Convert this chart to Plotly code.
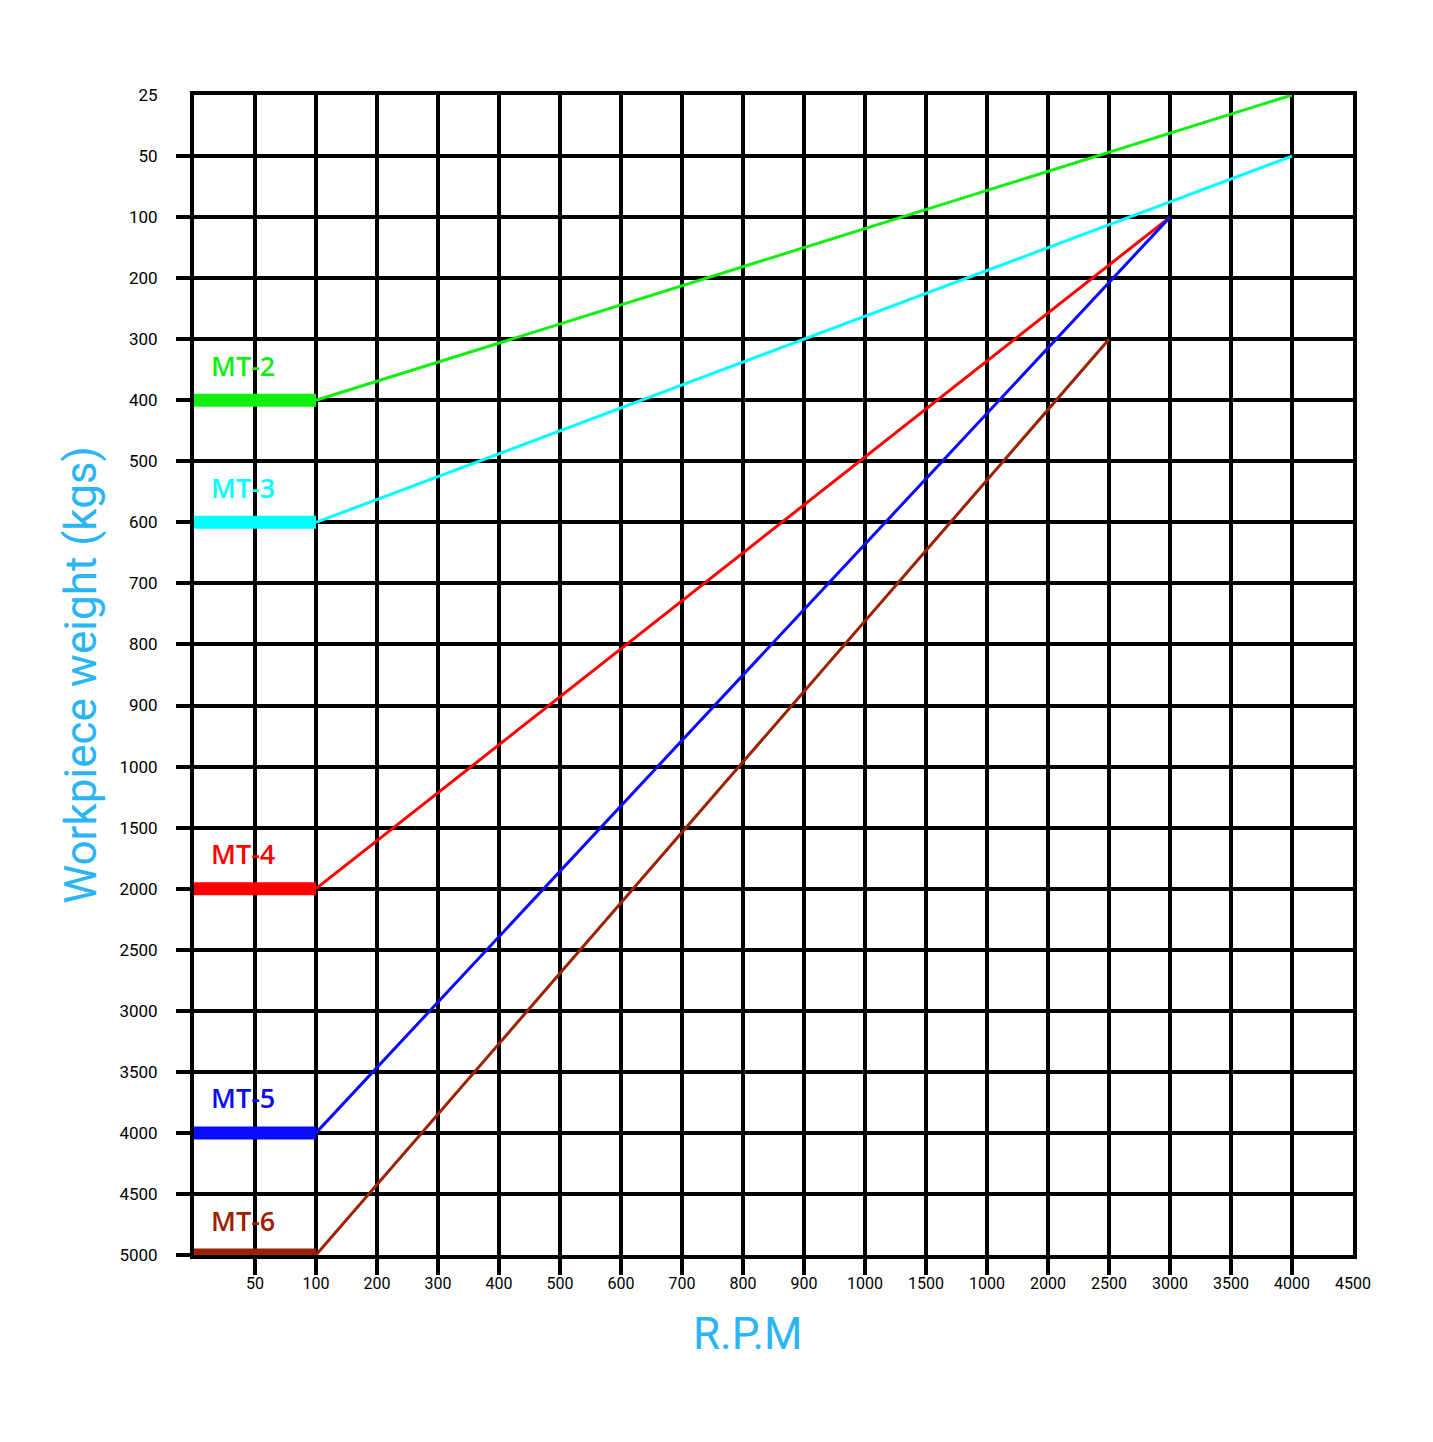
import plotly.graph_objects as go

# axis tick labels, one per grid line (x position 0 has no label)
rpm_labels = ["", "50", "100", "200", "300", "400", "500", "600", "700", "800",
              "900", "1000", "1500", "1000", "2000", "2500", "3000", "3500", "4000", "4500"]
weight_labels = ["25", "50", "100", "200", "300", "400", "500", "600", "700", "800",
                 "900", "1000", "1500", "2000", "2500", "3000", "3500", "4000", "4500", "5000"]

# one entry per model
models = ["MT-2", "MT-3", "MT-4", "MT-5", "MT-6"]
colors = ["#10f010", "#00ffff", "#ff0000", "#0a0aff", "#9b2100"]
base_weight = ["400", "600", "2000", "4000", "5000"]   # flat part, up to 100 rpm
base_rpm_end = "100"
top_rpm = ["4000", "4000", "3000", "3000", "2500"]
top_weight = ["25", "50", "100", "100", "300"]

TITLE_BLUE = "#2bb5f5"


def xpos(label):
    return rpm_labels.index(label)


def ypos(label):
    return weight_labels.index(label)


fig = go.Figure()

for name, col, bw, tr, tw in zip(models, colors, base_weight, top_rpm, top_weight):
    # thick flat segment
    fig.add_trace(go.Scatter(
        x=[0, xpos(base_rpm_end)], y=[ypos(bw), ypos(bw)],
        mode="lines", line=dict(color=col, width=13),
        showlegend=False, hoverinfo="skip"))
    # thin rising line
    fig.add_trace(go.Scatter(
        x=[xpos(base_rpm_end), xpos(tr)], y=[ypos(bw), ypos(tw)],
        mode="lines", line=dict(color=col, width=3),
        showlegend=False, name=name))
    fig.add_annotation(
        x=0.24, y=ypos(bw), text=name, showarrow=False,
        xanchor="left", yanchor="middle", yshift=35,
        font=dict(family="Open Sans", size=27, color=col, weight=600))

n = len(rpm_labels) - 1

fig.update_xaxes(
    range=[0, n], tickmode="array",
    tickvals=list(range(1, n + 1)), ticktext=rpm_labels[1:],
    ticks="", ticklabelstandoff=11,
    showgrid=True, gridcolor="black", gridwidth=4, zeroline=False,
    showline=True, linecolor="black", linewidth=4, mirror=True,
    minor=dict(tickmode="array", tickvals=list(range(1, n)),
               ticks="outside", ticklen=16, tickwidth=4, tickcolor="black",
               showgrid=False),
    tickfont=dict(family="Roboto", size=16, color="black"))

fig.update_yaxes(
    range=[len(weight_labels) - 1, 0], tickmode="array",
    tickvals=list(range(len(weight_labels))), ticktext=weight_labels,
    ticks="", ticklabelstandoff=29,
    showgrid=True, gridcolor="black", gridwidth=4, zeroline=False,
    showline=True, linecolor="black", linewidth=4, mirror=True,
    minor=dict(tickmode="array", tickvals=list(range(1, len(weight_labels))),
               ticks="outside", ticklen=14, tickwidth=4, tickcolor="black",
               showgrid=False),
    tickfont=dict(family="Roboto", size=17, color="black"),
    title=dict(text="Workpiece weight (kgs)", standoff=10,
               font=dict(family="Roboto", size=44, color=TITLE_BLUE)))

# x title sits a little left of the plot centre in the original
fig.add_annotation(
    x=0.478, y=-0.068, xref="paper", yref="paper", text="R.P.M",
    showarrow=False, xanchor="center", yanchor="middle",
    font=dict(family="Roboto", size=44, color=TITLE_BLUE))

fig.update_layout(
    width=1433, height=1442,
    margin=dict(l=186, r=88, t=87, b=195),
    plot_bgcolor="white", paper_bgcolor="white",
    showlegend=False)

fig.write_html("out.html")
